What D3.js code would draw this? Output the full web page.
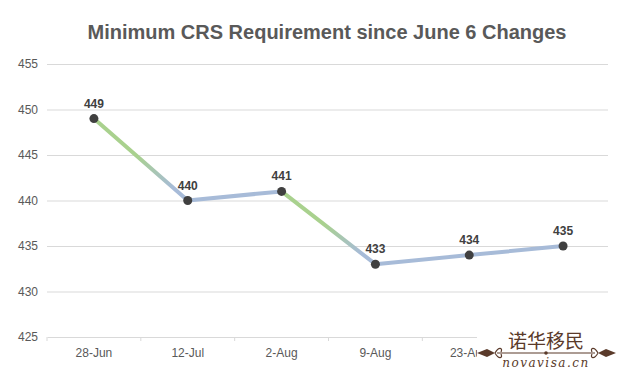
<!DOCTYPE html>
<html><head><meta charset="utf-8">
<script src="https://cdn.jsdelivr.net/npm/d3@7"></script>
<style>html,body{margin:0;padding:0;background:#fff;}</style>
</head><body>
<svg id="chart" width="624" height="383"></svg>
<script>
const categories = ["28-Jun","12-Jul","2-Aug","9-Aug","23-Aug","6-Sep"];
const values = [449, 440, 441, 433, 434, 435];
const yTicks = [425, 430, 435, 440, 445, 450, 455];
const title = "Minimum CRS Requirement since June 6 Changes";

const svg = d3.select("#chart");
const W = 624, H = 383;
const x = d3.scaleBand().domain(categories).range([47, 610]);
const y = d3.scaleLinear().domain([425, 455]).range([337, 64]);
const cx = d => x(d) + x.bandwidth() / 2;
const FF = "Liberation Sans, Arial, sans-serif";

svg.append("rect").attr("width", W).attr("height", H).attr("fill", "#fff");

svg.append("text").attr("x", 327).attr("y", 39).attr("text-anchor", "middle")
  .attr("font-family", FF).attr("font-weight", "bold")
  .attr("font-size", 20).attr("fill", "#595959").text(title);

// gridlines
const yAxis = d3.axisLeft(y).tickValues(yTicks).tickSize(-(608 - 47)).tickPadding(9);
const gy = svg.append("g").attr("transform", "translate(47,0)").call(yAxis);
gy.select(".domain").remove();
gy.selectAll(".tick line").attr("stroke", "#d9d9d9").attr("stroke-width", 1);
gy.selectAll(".tick text").attr("font-family", FF).attr("font-size", 12).attr("fill", "#595959");
gy.selectAll(".tick").filter(d => d === 425).select("line").remove();

// x axis
const xAxis = d3.axisBottom(x).tickSize(0).tickPadding(11);
const gx = svg.append("g").attr("transform", `translate(0,${y(425)})`).call(xAxis);
gx.select(".domain").attr("stroke", "#d9d9d9");
gx.selectAll(".tick text").attr("font-family", FF).attr("font-size", 12).attr("fill", "#595959");
const bounds = categories.map(c => x(c)).concat([x(categories[categories.length-1]) + x.bandwidth()]);
gx.selectAll(".bt").data(bounds).enter().append("line")
  .attr("x1", d => d).attr("x2", d => d).attr("y1", 0).attr("y2", 4)
  .attr("stroke", "#d9d9d9");

// line segments with gradient
const defs = svg.append("defs");
const green = "#a9d18e", blue = "#a7bbd8";
const pts = categories.map((c, i) => ({c, v: values[i], px: cx(c), py: y(values[i])}));
for (let i = 0; i < pts.length - 1; i++) {
  const a = pts[i], b = pts[i+1];
  let stroke = blue;
  if (a.v - b.v > 5) {
    const id = "g" + i;
    const g = defs.append("linearGradient").attr("id", id).attr("gradientUnits", "userSpaceOnUse")
      .attr("x1", a.px).attr("y1", a.py).attr("x2", b.px).attr("y2", b.py);
    g.append("stop").attr("offset", "0.45").attr("stop-color", green);
    g.append("stop").attr("offset", "0.85").attr("stop-color", blue);
    stroke = `url(#${id})`;
  }
  svg.append("line").attr("x1", a.px).attr("y1", a.py).attr("x2", b.px).attr("y2", b.py)
    .attr("stroke", stroke).attr("stroke-width", 4).attr("stroke-linecap", "round");
}

svg.selectAll(".pt").data(pts).enter().append("circle")
  .attr("cx", d => d.px).attr("cy", d => d.py).attr("r", 4.5).attr("fill", "#404040");

svg.selectAll(".lbl").data(pts).enter().append("text")
  .attr("x", d => d.px).attr("y", d => d.py - 11).attr("text-anchor", "middle")
  .attr("font-family", FF).attr("font-weight", "bold")
  .attr("font-size", 12).attr("fill", "#404040").text(d => d.v);

// watermark
const wc = "#5a3a2a";
const wm = svg.append("g").attr("transform", "translate(477,328)");
wm.append("rect").attr("x", 0).attr("y", 0).attr("width", 139).attr("height", 46).attr("fill", "#fff");
wm.append("text").attr("x", 69).attr("y", 20).attr("text-anchor", "middle")
  .attr("font-family", "Noto Sans CJK SC").attr("font-size", 19).attr("fill", wc).text("诺华移民");
wm.append("line").attr("x1", 20).attr("x2", 118).attr("y1", 25).attr("y2", 25).attr("stroke", wc).attr("stroke-width", 1.2);
wm.append("circle").attr("cx", 69).attr("cy", 25).attr("r", 1.8).attr("fill", wc);
wm.append("path").attr("d", "M0,25 L10,21 L18,25 L10,29 Z M121,25 L129,21 L139,25 L129,29 Z").attr("fill", wc);
wm.append("path").attr("d", "M18,25 C22,18 26,20 24,24 M18,25 C22,32 26,30 24,26 M121,25 C117,18 113,20 115,24 M121,25 C117,32 113,30 115,26")
  .attr("fill", "none").attr("stroke", wc).attr("stroke-width", 1.2);
wm.append("text").attr("x", 69).attr("y", 39).attr("text-anchor", "middle")
  .attr("font-family", "DejaVu Serif").attr("font-style", "italic").attr("font-size", 12)
  .attr("letter-spacing", 1.5).attr("fill", wc).text("novavisa.cn");
</script>
</body></html>
